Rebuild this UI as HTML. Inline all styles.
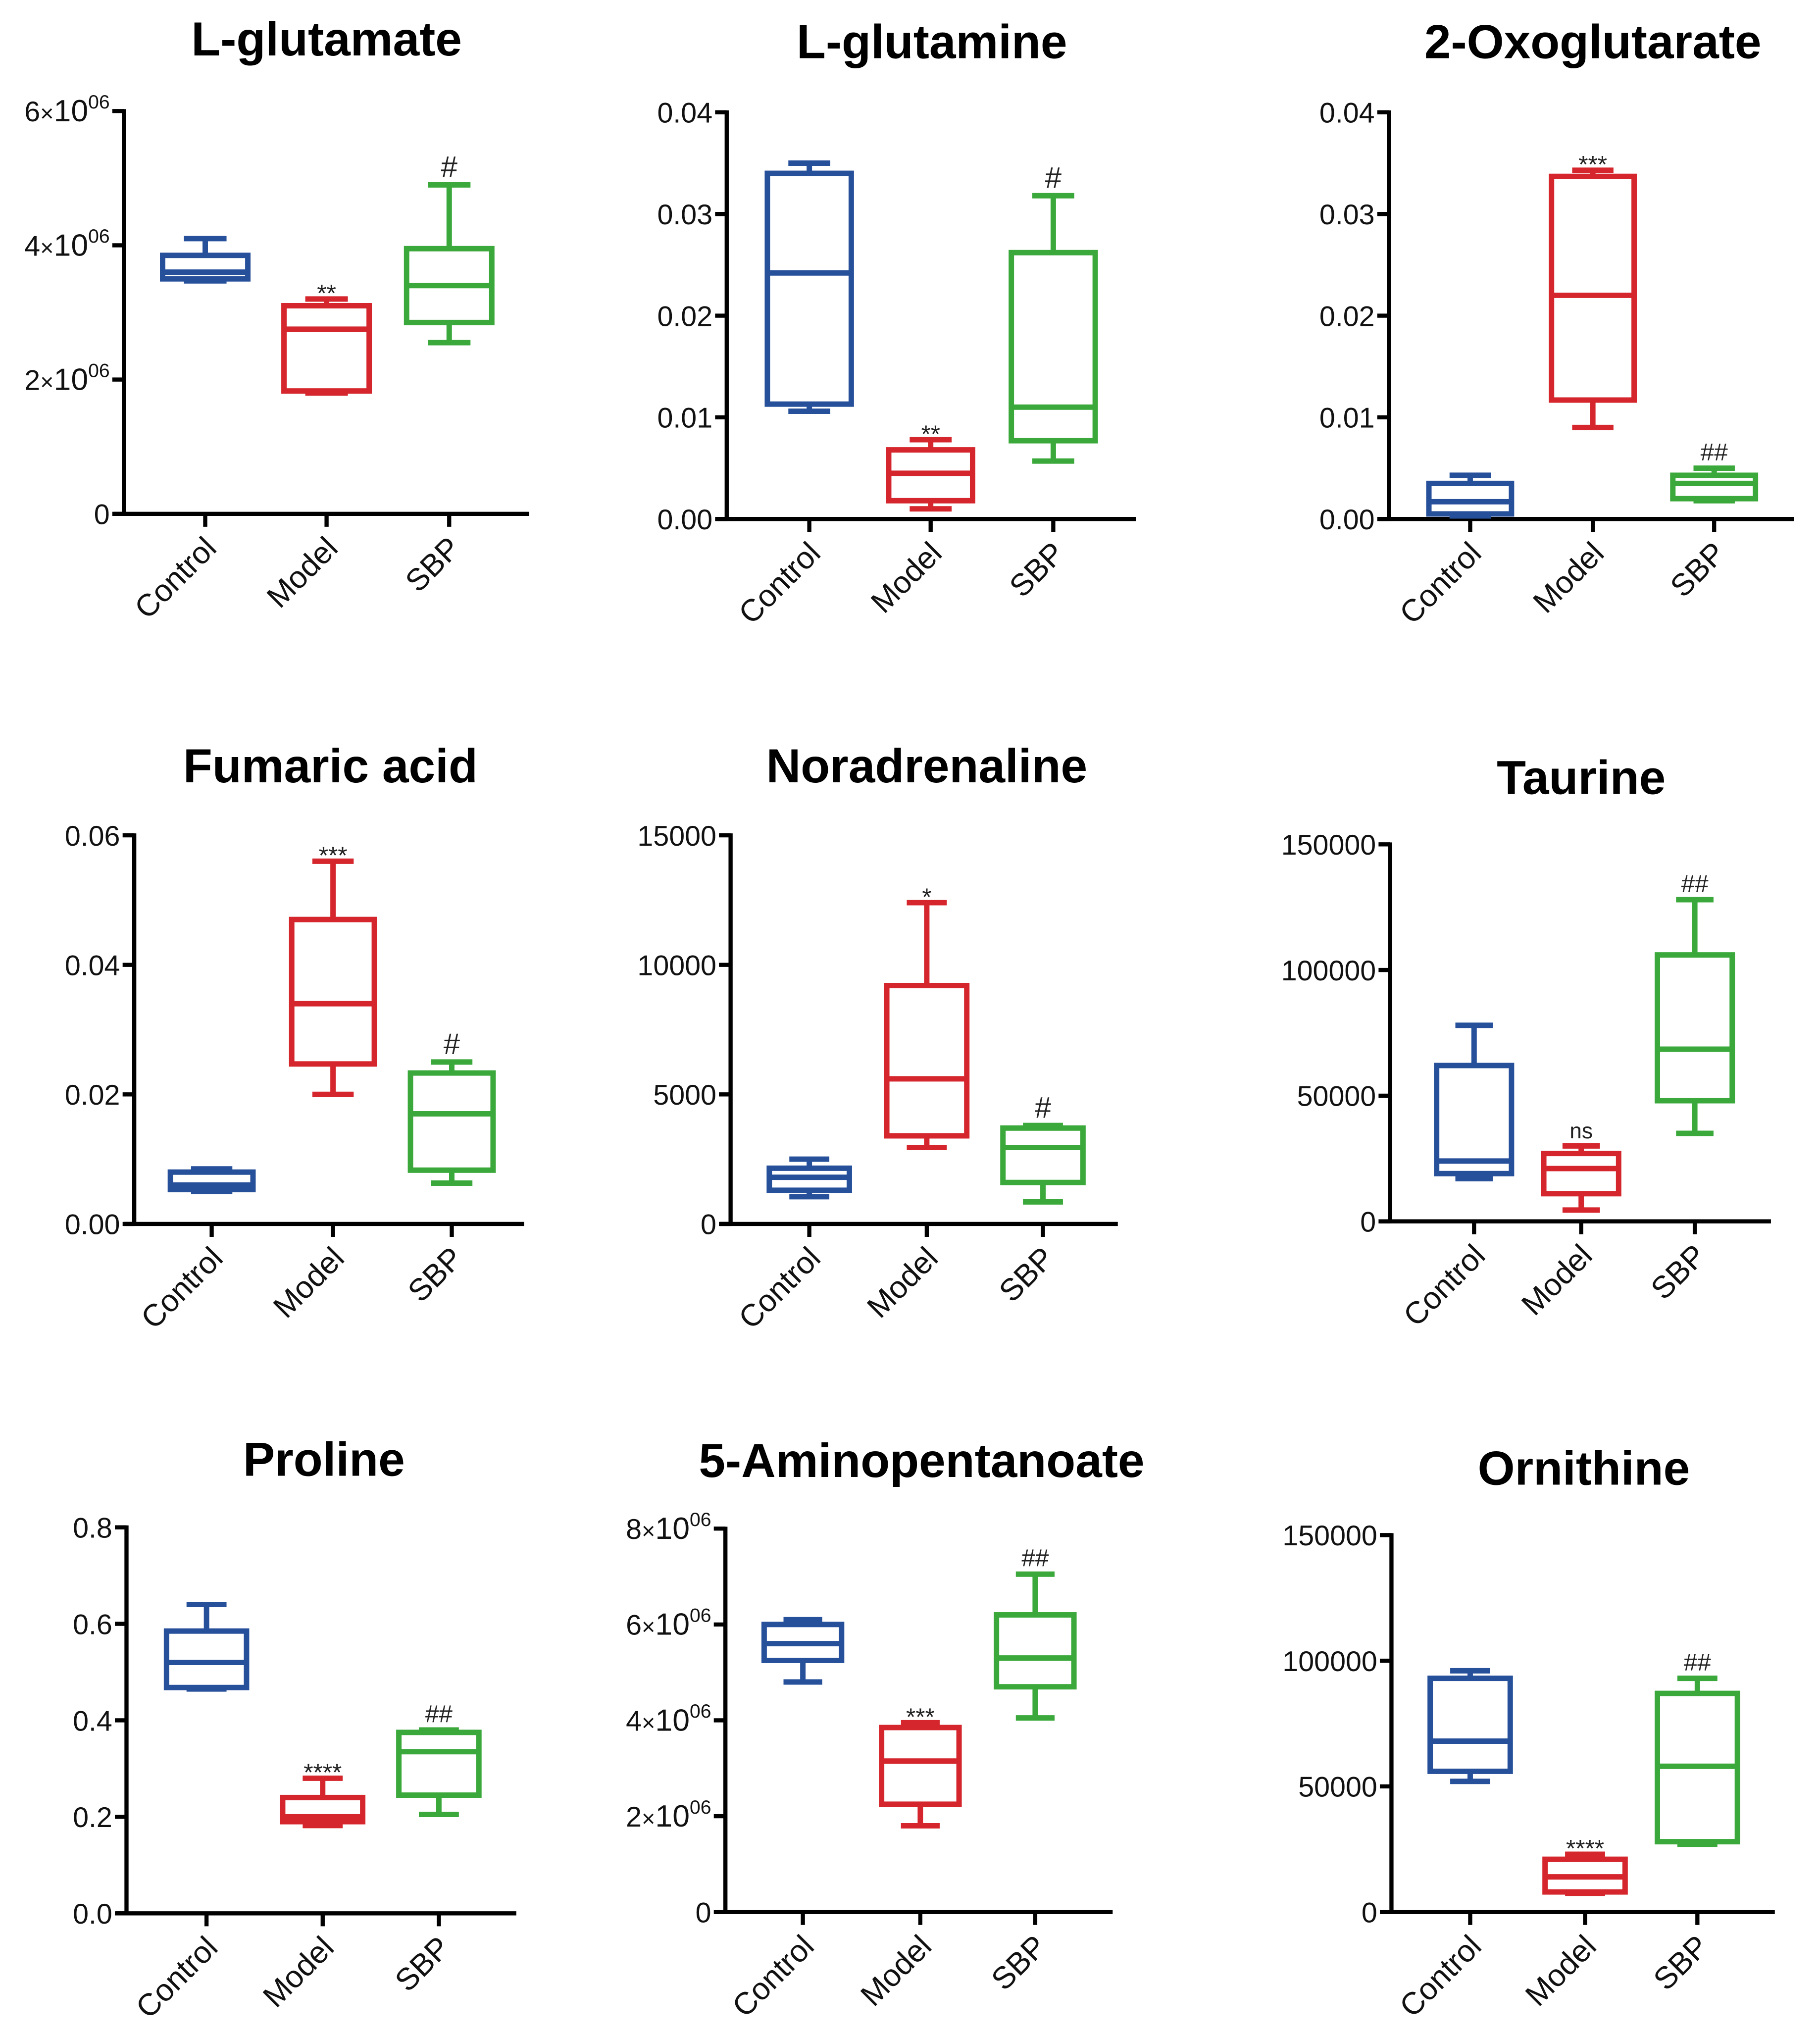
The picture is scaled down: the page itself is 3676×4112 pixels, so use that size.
<!DOCTYPE html>
<html><head><meta charset="utf-8"><style>
html,body{margin:0;padding:0;background:#fff;}
svg{display:block;}
</style></head><body>
<svg id="chart" xmlns="http://www.w3.org/2000/svg" width="3676" height="4112" viewBox="0 0 1410 1577" preserveAspectRatio="none" font-family="Liberation Sans, Arial, sans-serif"></svg>
<script>
// ---- data ----
const titles = ["L-glutamate","L-glutamine","2-Oxoglutarate","Fumaric acid","Noradrenaline","Taurine","Proline","5-Aminopentanoate","Ornithine"];
const categories = ["Control","Model","SBP"];
// each entry: [min, q1, median, q3, max]
const controlData = [
  [3.47e6,3.5e6,3.6e6,3.85e6,4.1e6],
  [0.0106,0.0113,0.0242,0.034,0.035],
  [0.0003,0.0005,0.0017,0.0035,0.0043],
  [0.005,0.0053,0.006,0.008,0.0085],
  [1050,1300,1800,2150,2500],
  [17000,19000,24000,62000,78000],
  [0.465,0.468,0.52,0.585,0.64],
  [4.8e6,5.25e6,5.6e6,6.0e6,6.1e6],
  [52000,56000,68000,93000,96000]
];
const modelData = [
  [1.8e6,1.83e6,2.75e6,3.1e6,3.2e6],
  [0.001,0.0018,0.0045,0.0068,0.0078],
  [0.009,0.0117,0.022,0.0337,0.0343],
  [0.02,0.0247,0.034,0.047,0.056],
  [2950,3400,5600,9200,12400],
  [4500,11000,21000,27000,30000],
  [0.182,0.19,0.2,0.24,0.28],
  [1.8e6,2.25e6,3.15e6,3.85e6,3.95e6],
  [7500,8000,14000,21000,23000]
];
const sbpData = [
  [2.55e6,2.85e6,3.4e6,3.95e6,4.9e6],
  [0.0057,0.0077,0.011,0.0262,0.0318],
  [0.0018,0.002,0.0035,0.0043,0.005],
  [0.0063,0.0083,0.017,0.0233,0.025],
  [850,1600,2950,3700,3800],
  [35000,48000,68500,106000,128000],
  [0.205,0.245,0.335,0.375,0.38],
  [4.05e6,4.7e6,5.3e6,6.2e6,7.05e6],
  [27000,28000,58000,87000,93000]
];
const modelSig = ["**","**","***","***","*","ns","****","***","****"];
const sbpSig = ["#","#","##","#","#","##","##","##","##"];
const yMaxValues = [6e6,0.04,0.04,0.06,15000,150000,0.8,8e6,150000];
const tickValues = [
  [0,2e6,4e6,6e6],[0,0.01,0.02,0.03,0.04],[0,0.01,0.02,0.03,0.04],
  [0,0.02,0.04,0.06],[0,5000,10000,15000],[0,50000,100000,150000],
  [0,0.2,0.4,0.6,0.8],[0,2e6,4e6,6e6,8e6],[0,50000,100000,150000]
];
const tickLabels = [
  ["0","2|06","4|06","6|06"],["0.00","0.01","0.02","0.03","0.04"],["0.00","0.01","0.02","0.03","0.04"],
  ["0.00","0.02","0.04","0.06"],["0","5000","10000","15000"],["0","50000","100000","150000"],
  ["0.0","0.2","0.4","0.6","0.8"],["0","2|06","4|06","6|06","8|06"],["0","50000","100000","150000"]
];
// ---- layout (not data) ----
const layout = [
  {ax:96,top:86,bot:398,xe:410,cx:[159,253,348],bw:66,tx:253,ty:43},
  {ax:563,top:87,bot:402,xe:880,cx:[627,721,816],bw:65,tx:722,ty:45},
  {ax:1076,top:87,bot:402,xe:1390,cx:[1139,1234,1328],bw:64,tx:1234,ty:45},
  {ax:104,top:647,bot:948,xe:406,cx:[164,258,350],bw:64,tx:256,ty:606},
  {ax:566,top:647,bot:948,xe:866,cx:[627,718,808],bw:62,tx:718,ty:606},
  {ax:1077,top:654,bot:946,xe:1372,cx:[1142,1225,1313],bw:58,tx:1225,ty:615},
  {ax:98,top:1183,bot:1482,xe:400,cx:[160,250,340],bw:62,tx:251,ty:1143},
  {ax:562,top:1184,bot:1481,xe:862,cx:[622,713,802],bw:60,tx:714,ty:1144},
  {ax:1078,top:1189,bot:1481,xe:1375,cx:[1139,1228,1315],bw:62,tx:1227,ty:1150}
];
const colors = ["#27509b","#d4262c","#3aa83a"];
const NS = "http://www.w3.org/2000/svg";
const svg = document.getElementById('chart');
function mk(tag, attrs, parent){
  const e = document.createElementNS(NS, tag);
  for (const k in attrs) e.setAttribute(k, attrs[k]);
  (parent||svg).appendChild(e);
  return e;
}
for (let p=0;p<9;p++){
  const L = layout[p];
  const g = mk('g',{});
  
  
  const y = v => L.bot - (v / yMaxValues[p]) * (L.bot - L.top);
  const t = mk('text',{x:L.tx,y:L.ty,'text-anchor':'middle','font-size':37,'font-weight':'bold',fill:'#000'},g);
  t.textContent = titles[p];
  
  
  const ya = mk('line',{x1:L.ax,y1:L.top-1.5,x2:L.ax,y2:L.bot+1.5,stroke:'#000','stroke-width':3.2},g);
  
  
  const xa = mk('line',{x1:L.ax-8,y1:L.bot,x2:L.xe,y2:L.bot,stroke:'#000','stroke-width':3.2},g);
  
  
  tickValues[p].forEach((tv,i)=>{
    const yy = y(tv);
    const tk = mk('line',{x1:L.ax-9,y1:yy,x2:L.ax,y2:yy,stroke:'#000','stroke-width':3.2},g);
    
    
    const lab = tickLabels[p][i];
    const tl = mk('text',{x:L.ax-11,y:yy+8,'text-anchor':'end','font-size':22,fill:'#111'},g);
    
    
    if (lab.indexOf('|')>=0){
      const parts = lab.split('|');
      const a = mk('tspan',{},tl); a.textContent = parts[0];
      const b = mk('tspan',{'font-size':18}, tl); b.textContent = '\u00d7';
      const c = mk('tspan',{'font-size':24}, tl); c.textContent = '10';
      const d = mk('tspan',{'font-size':15,dy:-10}, tl); d.textContent = parts[1];
    } else tl.textContent = lab;
  });
  const sets = [controlData[p], modelData[p], sbpData[p]];
  categories.forEach((cat,i)=>{
    const cx = L.cx[i];
    const tk = mk('line',{x1:cx,y1:L.bot,x2:cx,y2:L.bot+10,stroke:'#000','stroke-width':3.2},g);
    
    
    const cl = mk('text',{x:0,y:0,'text-anchor':'end','font-size':24,fill:'#111',transform:`translate(${cx+10},${L.bot+28}) rotate(-45)`},g);
    cl.textContent = cat;
    
    
    const d = sets[i], col = colors[i], hw = L.bw/2, cw = L.bw/4;
    const bg = mk('g',{stroke:col,'stroke-width':4.2,fill:'none'},g);
    
    
    mk('line',{x1:cx,y1:y(d[4]),x2:cx,y2:y(d[3])},bg);
    mk('line',{x1:cx,y1:y(d[1]),x2:cx,y2:y(d[0])},bg);
    mk('line',{x1:cx-cw,y1:y(d[4]),x2:cx+cw,y2:y(d[4])},bg);
    mk('line',{x1:cx-cw,y1:y(d[0]),x2:cx+cw,y2:y(d[0])},bg);
    mk('rect',{x:cx-hw,y:y(d[3]),width:L.bw,height:Math.max(0.5,y(d[1])-y(d[3]))},bg);
    mk('line',{x1:cx-hw,y1:y(d[2]),x2:cx+hw,y2:y(d[2])},bg);
    let sig = i===1 ? modelSig[p] : (i===2 ? sbpSig[p] : null);
    if (sig){
      const big = sig.indexOf('#')>=0 && sig.length===1;
      const st = mk('text',{x:cx,y:y(d[4])-(sig[0]==='*'?-2:6),'text-anchor':'middle','font-size':sig==='ns'?17:(big?23:19),fill:'#222'},g);
      st.textContent = sig;
      
      
    }
  });
}
</script>
</body></html>
